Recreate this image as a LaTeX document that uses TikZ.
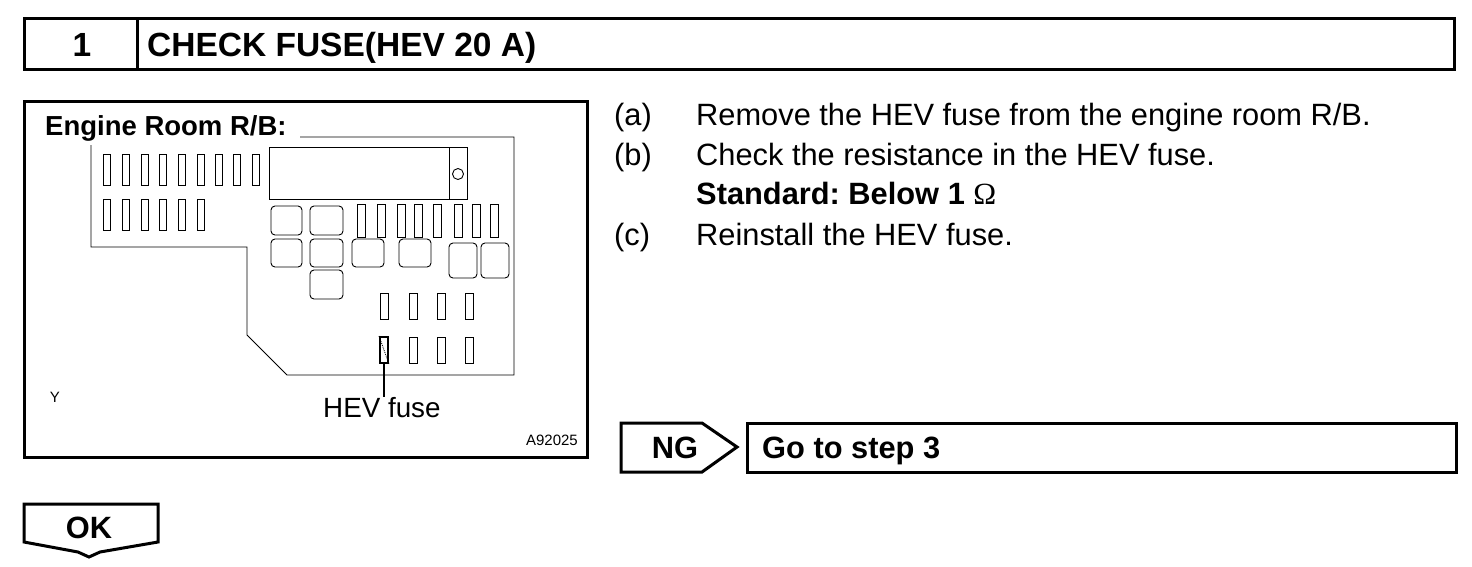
\documentclass[tikz,border=0pt]{standalone}
\usepackage{fontspec}
\setmainfont{Liberation Sans}
\newfontfamily\omegafont{Liberation Serif}
\usepackage{xcolor}
\usepackage{tikz}
\usetikzlibrary{arrows, arrows.meta, calc, positioning, shapes}
\definecolor{Black}{gray}{0}
\frenchspacing

\tikzset{
  frame/.style={draw=Black, line width=3pt},
  thin/.style={draw=Black, line width=0.9pt},
  smallfuse/.style={draw=Black, line width=0.9pt},
  relaybox/.style={draw=Black, line width=0.9pt, rounded corners=4pt},
  bodytext/.style={inner sep=0pt, anchor=base west, font=\fontsize{30.8}{36}\selectfont},
  boldtext/.style={inner sep=0pt, anchor=base west, font=\fontsize{30.8}{36}\selectfont\bfseries},
  tinytext/.style={inner sep=0pt, font=\fontsize{15}{18}\selectfont}
}

\begin{document}
\begin{tikzpicture}[x=1pt, y=-1pt]
  \useasboundingbox (0,0) rectangle (1472,566);

  % title bar
  \draw [frame] (24,18) rectangle (1454,69);
  \draw [frame] (137,18) -- (137,69);
  \node [boldtext, anchor=base, font=\fontsize{33.5}{38}\selectfont\bfseries] (stepno) at (82,56) {1};
  \node [boldtext, font=\fontsize{33.5}{38}\selectfont\bfseries] (steptitle) at (147,56) {CHECK FUSE(HEV 20 A)};

  % illustration
  \draw [frame] (24,101) rectangle (587,457);
  \node [boldtext, font=\fontsize{27.5}{33}\selectfont\bfseries] (roomlabel) at (45,135) {Engine Room R/B:};
  \draw [thin] (300,137) -- (514,137) -- (514,375) -- (287,375) -- (247,335)
    -- (247,247) -- (91,247) -- (91,145);

  \draw [thin] (269,147) rectangle (467,199);
  \draw [thin] (449,147) -- (449,199);
  \draw [thin] (458,174) circle (5.5);

  \draw [smallfuse] (103,154) rectangle +(7,31);
  \draw [smallfuse] (122,154) rectangle +(7,31);
  \draw [smallfuse] (141,154) rectangle +(7,31);
  \draw [smallfuse] (159,154) rectangle +(7,31);
  \draw [smallfuse] (178,154) rectangle +(7,31);
  \draw [smallfuse] (197,154) rectangle +(7,31);
  \draw [smallfuse] (215,154) rectangle +(7,31);
  \draw [smallfuse] (233,154) rectangle +(7,31);
  \draw [smallfuse] (252,154) rectangle +(7,31);

  \draw [smallfuse] (103,199) rectangle +(7,31);
  \draw [smallfuse] (122,199) rectangle +(7,31);
  \draw [smallfuse] (141,199) rectangle +(7,31);
  \draw [smallfuse] (159,199) rectangle +(7,31);
  \draw [smallfuse] (178,199) rectangle +(7,31);
  \draw [smallfuse] (197,199) rectangle +(7,31);

  \draw [relaybox] (271,206) rectangle (302,235);
  \draw [relaybox] (310,206) rectangle (343,235);
  \draw [relaybox] (271,239) rectangle (302,267);
  \draw [relaybox] (310,239) rectangle (343,267);
  \draw [relaybox] (352,239) rectangle (384,267);
  \draw [relaybox] (399,239) rectangle (431,267);
  \draw [relaybox] (310,270) rectangle (343,299);
  \draw [relaybox] (449,243) rectangle (477,278);
  \draw [relaybox] (481,243) rectangle (509,278);

  \draw [smallfuse] (357,204) rectangle +(8,33);
  \draw [smallfuse] (377,204) rectangle +(8,33);
  \draw [smallfuse] (397,204) rectangle +(8,33);
  \draw [smallfuse] (414,204) rectangle +(8,33);
  \draw [smallfuse] (433,204) rectangle +(8,33);
  \draw [smallfuse] (454,204) rectangle +(8,33);
  \draw [smallfuse] (472,204) rectangle +(8,33);
  \draw [smallfuse] (490,204) rectangle +(8,33);

  \draw [smallfuse] (380,293) rectangle +(8,26);
  \draw [smallfuse] (409,293) rectangle +(8,26);
  \draw [smallfuse] (437,293) rectangle +(8,26);
  \draw [smallfuse] (465,293) rectangle +(8,26);

  \node [draw=Black, line width=2pt, minimum width=8pt, minimum height=26pt, inner sep=0pt] (hev) at (384,350) {};
  \draw [thin, densely dotted] (hev.north west) -- (hev.south east);
  \draw [smallfuse] (409,337) rectangle +(8,26);
  \draw [smallfuse] (437,337) rectangle +(8,26);
  \draw [smallfuse] (465,337) rectangle +(8,26);

  \node [bodytext, font=\fontsize{27.8}{33}\selectfont] (hevlabel) at (323,417) {HEV fuse};
  \draw [line width=1.5pt] (hev.south) -- (hev.south |- hevlabel.north);
  \node [tinytext] (ymark) at (55,397) {Y};
  \node [tinytext, anchor=east] (figno) at (578,440) {A92025};

  % instructions
  \node [bodytext] (itema) at (614,125) {(a)};
  \node [bodytext] (texta) at (696,125) {Remove the HEV fuse from the engine room R/B.};
  \node [bodytext] (itemb) at (614,165) {(b)};
  \node [bodytext] (textb) at (696,165) {Check the resistance in the HEV fuse.};
  \node [boldtext] (spec) at (696,204) {Standard: Below 1 {\omegafont\mdseries Ω}};
  \node [bodytext] (itemc) at (614,245) {(c)};
  \node [bodytext] (textc) at (696,245) {Reinstall the HEV fuse.};

  % NG branch
  \draw [frame] (621,423) -- (702,423) -- (737,447) -- (702,472) -- (621,472) -- cycle;
  \node [boldtext, anchor=base] (ng) at (675,458) {NG};
  \draw [frame] (747,423) rectangle (1456,472);
  \node [boldtext] (gostep) at (762,458) {Go to step 3};

  % OK branch
  \draw [frame] (24,504) -- (158,504) -- (158,542) -- (100,552) -- (89,557)
    -- (78,552) -- (24,542) -- cycle;
  \node [boldtext, anchor=base] (ok) at (89,538) {OK};
\end{tikzpicture}
\end{document}
